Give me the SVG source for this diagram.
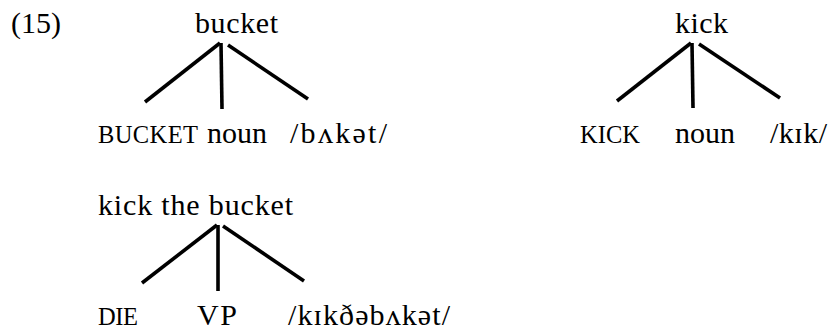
<svg xmlns="http://www.w3.org/2000/svg" width="831" height="333" viewBox="0 0 831 333">
<style>
text{font-family:"Liberation Serif","Times New Roman","DejaVu Serif",serif;font-size:30px;fill:#000}
.sc{font-size:24.5px}
.edge{stroke:#000;stroke-width:3.6;fill:none}
</style>
<rect width="831" height="333" fill="#fff"/>
<g id="label-15"><text x="11" y="33">(15)</text></g>
<g id="node-bucket"><text x="195" y="33" textLength="83">bucket</text></g>
<g id="node-BUCKET"><text class="sc" x="98" y="143" textLength="100">BUCKET</text></g>
<g id="node-noun1"><text x="207" y="143">noun</text></g>
<g id="node-bAkat"><text x="290" y="143" textLength="97">/bʌkət/</text></g>
<g id="node-kick"><text x="675" y="33" textLength="53">kick</text></g>
<g id="node-KICK"><text class="sc" x="580" y="143" textLength="60">KICK</text></g>
<g id="node-noun2"><text x="675" y="143">noun</text></g>
<g id="node-kik"><text x="770" y="143" textLength="57">/kɪk/</text></g>
<g id="node-kickthebucket"><text x="98" y="215" textLength="195">kick the bucket</text></g>
<g id="node-DIE"><text class="sc" x="98" y="325" textLength="40">DIE</text></g>
<g id="node-VP"><text x="197" y="325" textLength="40">VP</text></g>
<g id="node-kikdhebAkat"><text x="288" y="325" textLength="162">/kɪkðəbʌkət/</text></g>
<g id="connectors">
<line class="edge" x1="220" y1="43" x2="145" y2="102"/>
<line class="edge" x1="221" y1="43" x2="222" y2="109"/>
<line class="edge" x1="228" y1="45" x2="308" y2="99"/>
<line class="edge" x1="691" y1="43" x2="617" y2="101"/>
<line class="edge" x1="692" y1="43" x2="693" y2="108"/>
<line class="edge" x1="699" y1="44" x2="780" y2="98"/>
<line class="edge" x1="217" y1="225" x2="142" y2="283"/>
<line class="edge" x1="218" y1="225" x2="218" y2="291"/>
<line class="edge" x1="223" y1="226" x2="304" y2="281"/>
</g>
</svg>
